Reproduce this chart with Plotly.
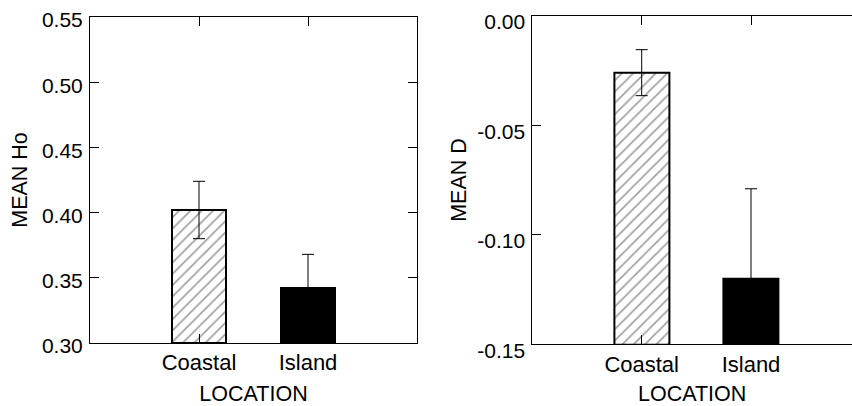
import plotly.graph_objects as go

categories = ["Coastal", "Island"]
ho_means = [0.402, 0.342]
ho_err = [0.022, 0.026]
d_means = [-0.026, -0.120]
d_err = [0.0105, 0.041]
ho_ticks = [0.30, 0.35, 0.40, 0.45, 0.50, 0.55]
d_ticks = [-0.15, -0.10, -0.05, 0.00]

FONT = "Liberation Sans, Arial, Helvetica, sans-serif"
ho_base = 0.30
d_base = -0.15

fig = go.Figure()

def add_panel(means, errs, base, xa, ya):
    fig.add_trace(go.Bar(
        x=[0, 1], y=[m - base for m in means], base=[base, base],
        width=0.5,
        marker=dict(
            color=["white", "black"],
            line=dict(color="black", width=2),
            pattern=dict(shape=["/", ""], fgcolor="black", bgcolor="white",
                         size=8, solidity=0.22, fillmode="overlay"),
        ),
        error_y=dict(type="data", array=errs, visible=True,
                     color="black", thickness=1, width=6),
        xaxis=xa, yaxis=ya, showlegend=False, hoverinfo="skip",
    ))

add_panel(ho_means, ho_err, ho_base, "x", "y")
add_panel(d_means, d_err, d_base, "x2", "y2")

axis_common = dict(showline=True, linecolor="black", linewidth=1,
                   ticks="inside", ticklen=9, tickwidth=1,
                   tickcolor="black", showgrid=False, zeroline=False,
                   automargin=False, ticklabeloverflow="allow")

fig.update_layout(
    width=852, height=406,
    margin=dict(l=0, r=0, t=0, b=0),
    paper_bgcolor="white", plot_bgcolor="white",
    font=dict(family=FONT, color="black"),
    xaxis=dict(domain=[90/852, 417/852], range=[-1, 2],
               tickvals=[0, 1], ticktext=categories,
               tickfont=dict(size=22), ticklabelstandoff=0,
               title=dict(text="LOCATION", font=dict(size=21.5), standoff=21),
               anchor="y", mirror="ticks", **axis_common),
    yaxis=dict(domain=[1 - 343/406, 1 - 17/406], range=[0.30, 0.55],
               tickvals=ho_ticks, ticktext=[f"{v:.2f}" for v in ho_ticks],
               tickfont=dict(size=21), ticklabelstandoff=2, ticklabelshift=3,
               title=dict(text="MEAN Ho", font=dict(size=21.5), standoff=8),
               anchor="x", mirror="ticks", **axis_common),
    xaxis2=dict(domain=[532.4/852, 1.0], range=[-1, 1.924],
                tickvals=[0, 1], ticktext=categories,
                tickfont=dict(size=22), ticklabelstandoff=0,
                title=dict(text="LOCATION", font=dict(size=21.5), standoff=21),
                anchor="y2", mirror="ticks", **axis_common),
    yaxis2=dict(domain=[1 - 344.3/406, 1 - 15.7/406], range=[-0.15, 0.0],
                tickvals=d_ticks, ticktext=[f"{v:.2f}" for v in d_ticks],
                tickfont=dict(size=21), ticklabelstandoff=2, ticklabelshift=6,
                title=dict(text="MEAN D", font=dict(size=21.5), standoff=4),
                anchor="x2", mirror=False, **axis_common),
    bargap=0,
)

fig.write_html("out.html", config={"displayModeBar": False},
               post_script="document.body.style.margin='0';document.body.style.overflow='hidden';")
